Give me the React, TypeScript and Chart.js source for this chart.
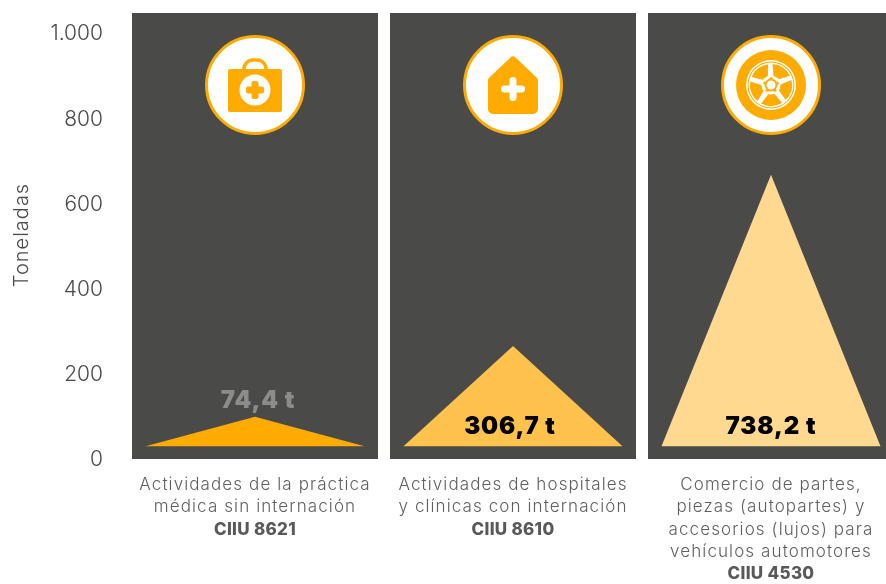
import React, { useEffect, useRef } from "react";
import { Chart, registerables } from "chart.js";

Chart.register(...registerables);

const categoryLines = [
  ["Actividades de la práctica", "médica sin internación"],
  ["Actividades de hospitales", "y clínicas con internación"],
  ["Comercio de partes,", "piezas (autopartes) y", "accesorios (lujos) para", "vehículos automotores"],
];
const categoryCodes = ["CIIU 8621", "CIIU 8610", "CIIU 4530"];
const categories = ["8621", "8610", "4530"];
const valueLabels = ["74,4 t", "306,7 t", "738,2 t"];
const triangleBase = [30, 30, 30];
const trianglePeak = [99, 265, 667];
const panelTop = [1047, 1047, 1047];
const triangleColors = ["#ffab00", "#ffc34d", "#ffd990"];
const labelColors = ["#8c8c8c", "#000000", "#000000"];
const yTicks = [0, 200, 400, 600, 800, 1000];

const ORANGE = "#ffab00";
const FONT = "Inter, 'Open Sans', sans-serif";

function drawMedkit(ctx: CanvasRenderingContext2D, cx: number, cy: number) {
  ctx.fillStyle = ORANGE;
  ctx.strokeStyle = ORANGE;
  ctx.lineWidth = 3.5;
  ctx.beginPath();
  ctx.moveTo(cx - 11, cy - 15);
  ctx.arcTo(cx - 11, cy - 25, cx, cy - 25, 9);
  ctx.arcTo(cx + 11, cy - 25, cx + 11, cy - 15, 9);
  ctx.lineTo(cx + 11, cy - 15);
  ctx.stroke();
  ctx.beginPath();
  ctx.roundRect(cx - 27, cy - 16, 54, 43, 2);
  ctx.fill();
  ctx.fillStyle = "#fff";
  ctx.beginPath();
  ctx.arc(cx, cy + 5, 15.5, 0, Math.PI * 2);
  ctx.fill();
  ctx.fillStyle = ORANGE;
  ctx.beginPath();
  ctx.roundRect(cx - 9, cy + 1.5, 18, 7, 2);
  ctx.roundRect(cx - 3.5, cy - 4, 7, 18, 2);
  ctx.fill();
}

function drawHouse(ctx: CanvasRenderingContext2D, cx: number, cy: number) {
  ctx.fillStyle = ORANGE;
  ctx.beginPath();
  ctx.moveTo(cx, cy - 30);
  ctx.arcTo(cx + 25, cy - 6, cx + 25, cy + 29, 3);
  ctx.arcTo(cx + 25, cy + 29, cx - 25, cy + 29, 5);
  ctx.arcTo(cx - 25, cy + 29, cx - 25, cy - 6, 5);
  ctx.arcTo(cx - 25, cy - 6, cx, cy - 30, 3);
  ctx.arcTo(cx, cy - 30, cx + 25, cy - 6, 4);
  ctx.closePath();
  ctx.fill();
  ctx.fillStyle = "#fff";
  ctx.beginPath();
  ctx.roundRect(cx - 12, cy + 0.5, 24, 7, 3.5);
  ctx.roundRect(cx - 3.5, cy - 8, 7, 24, 3.5);
  ctx.fill();
}

function drawWheel(ctx: CanvasRenderingContext2D, cx: number, cy: number) {
  const circle = (r: number, color: string) => {
    ctx.fillStyle = color;
    ctx.beginPath();
    ctx.arc(cx, cy, r, 0, Math.PI * 2);
    ctx.fill();
  };
  circle(35, ORANGE);
  circle(25, "#fff");
  circle(23.5, ORANGE);
  circle(22.5, "#fff");
  ctx.fillStyle = ORANGE;
  [-128, -56, 16, 88, 160].forEach((deg) => {
    const a = (deg * Math.PI) / 180;
    const s = 0.52;
    ctx.beginPath();
    ctx.moveTo(cx + Math.cos(a - s * 0.6) * 9, cy + Math.sin(a - s * 0.6) * 9);
    ctx.arc(cx, cy, 21, a - s, a + s);
    ctx.lineTo(cx + Math.cos(a + s * 0.6) * 9, cy + Math.sin(a + s * 0.6) * 9);
    ctx.closePath();
    ctx.fill();
  });
  circle(9.5, "#fff");
  circle(6.5, ORANGE);
  circle(4.5, "#fff");
  [-90, -18, 54, 126, 198].forEach((deg) => {
    const a = (deg * Math.PI) / 180;
    ctx.fillStyle = ORANGE;
    ctx.beginPath();
    ctx.arc(cx + Math.cos(a) * 6.5, cy + Math.sin(a) * 6.5, 1.6, 0, Math.PI * 2);
    ctx.fill();
  });
}

const icons = [drawMedkit, drawHouse, drawWheel];

const trianglePlugin = {
  id: "triangles",
  afterDatasetsDraw(chart: any) {
    const ctx: any = chart.ctx;
    const meta = chart.getDatasetMeta(1);
    const y = chart.scales.y;
    meta.data.forEach((bar: any, i: number) => {
      const half = bar.width / 2;
      const baseY = y.getPixelForValue(triangleBase[i]);
      const peakY = y.getPixelForValue(trianglePeak[i]);
      ctx.save();
      ctx.fillStyle = triangleColors[i];
      ctx.beginPath();
      ctx.moveTo(bar.x - half, baseY);
      ctx.lineTo(bar.x, peakY);
      ctx.lineTo(bar.x + half, baseY);
      ctx.closePath();
      ctx.fill();

      ctx.textAlign = "center";
      ctx.textBaseline = "middle";
      ctx.font = `900 24px ${FONT}`;
      ctx.letterSpacing = "0.9px";
      ctx.fillStyle = labelColors[i];
      const labelY = i === 0 ? peakY - 16 : baseY - 19.5;
      ctx.fillText(valueLabels[i], bar.x + (i === 0 ? 3 : i === 1 ? -3 : 0), labelY);

      const cy = y.getPixelForValue(878);
      ctx.fillStyle = "#fff";
      ctx.strokeStyle = ORANGE;
      ctx.lineWidth = 3;
      ctx.beginPath();
      ctx.arc(bar.x, cy, 48.5, 0, Math.PI * 2);
      ctx.fill();
      ctx.stroke();
      icons[i](ctx, bar.x, cy);

      let ty = chart.chartArea.bottom + 26;
      ctx.fillStyle = "#5f5f5f";
      ctx.font = `300 17px ${FONT}`;
      ctx.letterSpacing = "1.1px";
      categoryLines[i].forEach((line) => {
        ctx.fillText(line, bar.x, ty);
        ty += 22.2;
      });
      ctx.fillStyle = "#595959";
      ctx.font = `800 17px ${FONT}`;
      ctx.letterSpacing = "0.3px";
      ctx.fillText(categoryCodes[i], bar.x, ty);
      ctx.restore();
    });

    ctx.save();
    ctx.translate(22, 235);
    ctx.rotate(-Math.PI / 2);
    ctx.textAlign = "center";
    ctx.textBaseline = "middle";
    ctx.fillStyle = "#4a4a48";
    ctx.font = `300 20px ${FONT}`;
    ctx.letterSpacing = "1px";
    ctx.fillText("Toneladas", 0, 0);
    ctx.restore();
  },
};

export default function App() {
  const ref = useRef<HTMLCanvasElement>(null);
  useEffect(() => {
    document.body.style.margin = "0";
    const chart = new Chart(ref.current!, {
      type: "bar",
      data: {
        labels: categories,
        datasets: [
          {
            data: panelTop,
            backgroundColor: "#4a4a48",
            barPercentage: 246 / 258,
            categoryPercentage: 1,
            grouped: false,
          },
          {
            data: trianglePeak,
            backgroundColor: "rgba(0,0,0,0)",
            barPercentage: 219 / 258,
            categoryPercentage: 1,
            grouped: false,
          },
        ],
      } as any,
      options: {
        animation: false,
        responsive: false,
        layout: { padding: { top: 13, left: 0, right: 0, bottom: 0 } },
        plugins: { legend: { display: false }, tooltip: { enabled: false } },
        scales: {
          x: {
            grid: { display: false },
            border: { display: false },
            ticks: { display: false },
            afterFit: (s: any) => {
              s.height = 125;
              s.paddingLeft = 0;
              s.paddingRight = 0;
            },
          },
          y: {
            min: 0,
            max: 1047,
            grid: { display: false, drawTicks: false },
            border: { display: false },
            afterFit: (s: any) => {
              s.width = 126;
              s.paddingTop = 0;
              s.paddingBottom = 0;
            },
            afterBuildTicks: (s: any) => {
              s.ticks = yTicks.map((value) => ({ value }));
            },
            ticks: {
              padding: 23,
              labelOffset: 1,
              color: "#4a4a48",
              font: { family: FONT, size: 21, weight: "300" },
              callback: (v: any) => (v === 1000 ? "1.000" : String(v)),
            },
          },
        },
      },
      plugins: [trianglePlugin],
    } as any);
    return () => chart.destroy();
  }, []);
  return (
    <div style={{ position: "absolute", left: 0, top: 0, width: 886, height: 584, overflow: "hidden" }}>
      <canvas ref={ref} width={900} height={584} style={{ display: "block", width: 900, height: 584 }} />
    </div>
  );
}
